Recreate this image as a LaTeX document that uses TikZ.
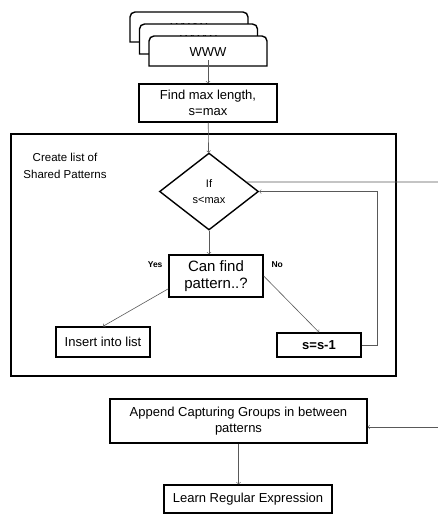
\documentclass[tikz,border=0pt]{standalone}
\usepackage{fontspec}
\setmainfont{Liberation Sans}
\usetikzlibrary{shapes.geometric}
\begin{document}
\begin{tikzpicture}
[x=1pt,y=-1pt]
\tikzstyle{box node}=[rectangle,draw,line width=1.4pt,inner sep=0,align=center,font=\fontsize{13}{16}\selectfont]
\tikzstyle{doc page}=[draw,line width=1.4pt,fill=white]
\tikzstyle{flow line}=[draw=black!65,line width=0.6pt]
\tikzstyle{small label}=[font=\fontsize{8.5}{10}\selectfont\bfseries]
\useasboundingbox (0,0) rectangle (438,515);

\foreach \i/\dx/\dy in {1/130/12,2/139.5/24,3/149/36}{
  \draw[doc page] (\dx,\dy+30) [rounded corners=5pt] -- (\dx,\dy) -- (\dx+118,\dy) [sharp corners] -- (\dx+118,\dy+30) -- cycle;
  \node(doc\i)[font=\fontsize{13}{16}\selectfont] at (\dx+59,\dy+16){WWW};
}

\node(find)[box node,minimum width=138,minimum height=38] at (208,103){Find max length,\\s=max};
\node(frame)[draw,line width=1.4pt,minimum width=385,minimum height=242] at (203.5,255){};
\node(title)[align=center,font=\fontsize{11.5}{17}\selectfont] at (65,166){Create list of\\Shared Patterns};
\node(dia)[diamond,draw,line width=1.4pt,aspect=1.27,minimum width=99,minimum height=77,inner sep=0,align=center,font=\fontsize{11}{16}\selectfont] at (209,191.5){If\\s<max};
\node(can)[box node,font=\fontsize{15}{17}\selectfont,minimum width=94,minimum height=42] at (216,276){Can find\\pattern..?};
\node(ins)[box node,minimum width=94,minimum height=30] at (103,342){Insert into list};
\node(ss)[box node,font=\fontsize{13}{16}\selectfont\bfseries,minimum width=84,minimum height=24] at (319,345){s=s-1};
\node(yes)[small label,left] at (166,265){Yes};
\node(no)[small label,right] at (268,265){No};
\node(app)[box node,minimum width=257,minimum height=44] at (238.5,421){Append Capturing Groups in between\\patterns};
\node(learn)[box node,minimum width=168,minimum height=28] at (248,499){Learn Regular Expression};
\coordinate(out) at (438,182);
\coordinate(in) at (438,427);

\draw[flow line,->] (doc3) -- (find);
\draw[flow line,->] (find) -- (dia);
\draw[flow line,->] (dia.south) -- (dia.south |- can.north);
\draw[flow line,->] (can.195) -- (ins.north);
\draw[flow line,->] (can.east) -- (ss.north);
\draw[flow line,->] (ss.east) -- ++(16,0) |- (dia.east);
\draw[flow line] (dia.14) -- (out);
\draw[flow line,->] (in) -- (in -| app.east);
\draw[flow line,->] (app.south) -- (app.south |- learn.north);
\end{tikzpicture}
\end{document}
